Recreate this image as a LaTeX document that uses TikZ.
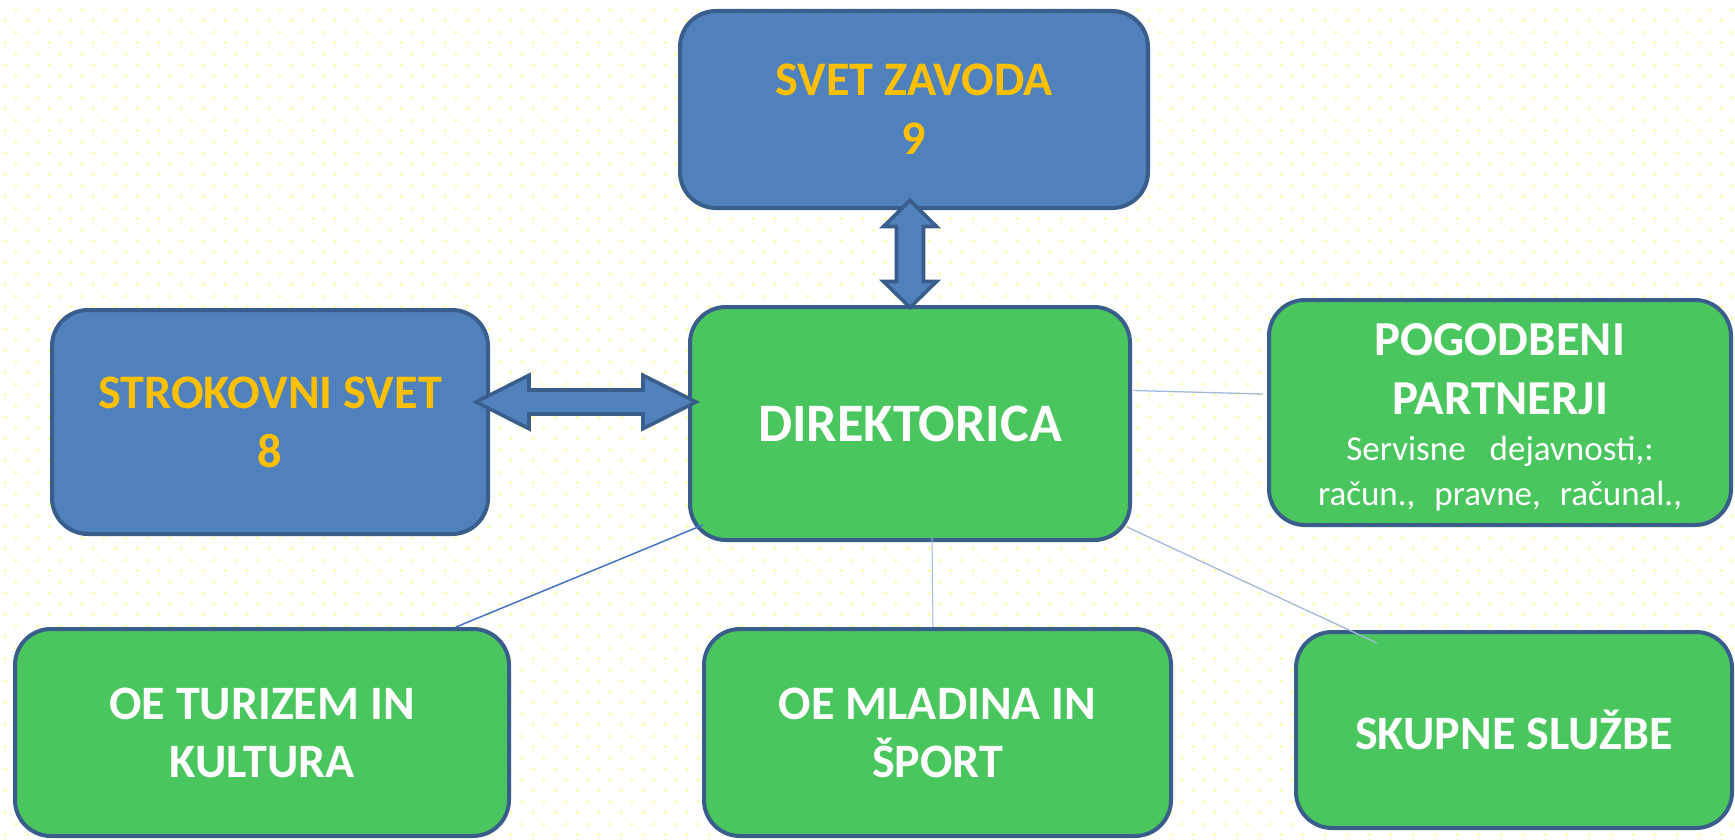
\documentclass[tikz,border=0pt]{standalone}
\usepackage{fontspec}
\setmainfont{Carlito}
\usetikzlibrary{patterns,calc}
\definecolor{boxblue}{RGB}{79,129,189}
\definecolor{edgeblue}{RGB}{58,94,140}
\definecolor{boxgreen}{RGB}{74,198,94}
\definecolor{txtgold}{RGB}{255,192,0}
\definecolor{dotyellow}{RGB}{255,255,150}
\definecolor{linkblue}{RGB}{68,114,196}
\definecolor{linkpale}{RGB}{163,185,220}
\pgfdeclarepatternformonly{ydots}{\pgfqpoint{0pt}{0pt}}{\pgfqpoint{10.75pt}{10.75pt}}{\pgfqpoint{10.75pt}{10.75pt}}{%
  \pgfpathcircle{\pgfqpoint{2.7pt}{2.7pt}}{0.8pt}%
  \pgfpathcircle{\pgfqpoint{8.075pt}{8.075pt}}{0.8pt}%
  \pgfusepath{fill}%
}
\tikzset{
  orgbox/.style={rounded corners=18pt, draw=edgeblue, line width=2pt, align=center, inner sep=0pt},
  bluebox/.style={orgbox, fill=boxblue, text=txtgold, font=\fontsize{24.1}{29.5}\selectfont\bfseries},
  greenbox/.style={orgbox, fill=boxgreen, text=white, font=\fontsize{24}{29}\selectfont\bfseries},
  blockarrow/.style={fill=boxblue, draw=edgeblue, line width=1.8pt, line join=miter},
  darklink/.style={draw=linkblue, line width=0.75pt},
  palelink/.style={draw=linkpale, line width=0.65pt}
}
\begin{document}
\begin{tikzpicture}[x=0.5pt, y=-0.5pt]
\useasboundingbox (0,0) rectangle (1735,840);
\fill[white] (0,0) rectangle (1735,840);
\fill[pattern=ydots, pattern color=dotyellow] (0,0) rectangle (1735,840);

\node[bluebox, minimum width=234pt, minimum height=98.5pt] (zavod) at (914,109.5) {SVET ZAVODA\\9};
\node[greenbox, font=\fontsize{27.1}{33}\selectfont\bfseries, minimum width=220pt, minimum height=116.5pt] (dir) at (910,423.5) {DIREKTORICA};
\node[bluebox, minimum width=218pt, minimum height=112pt] (strok) at (270,422) {STROKOVNI SVET\\8};
\node[greenbox, font=\fontsize{24.4}{29.5}\selectfont\bfseries, minimum width=231pt, minimum height=112.5pt] (part) at (1500,412.5)
  {\rule{0pt}{21pt}POGODBENI\\PARTNERJI\\[-6.5pt]{\fontsize{17.5}{29.5}\selectfont\mdseries Servisne\hspace{12pt}dejavnosti,:}\\[-7pt]{\fontsize{17.5}{29.5}\selectfont\mdseries račun.,\hspace{9.5pt}pravne,\hspace{9.5pt}računal.,}};
\node[greenbox, minimum width=247pt, minimum height=103.5pt] (tur) at (262,732.5) {OE TURIZEM IN\\KULTURA};
\node[greenbox, minimum width=233.5pt, minimum height=103.5pt] (mlad) at (937.5,732.5) {OE MLADINA IN\\ŠPORT};
\node[greenbox, minimum width=218pt, minimum height=98pt] (skup) at (1514,730) {SKUPNE SLUŽBE};

% thin connectors
\draw[darklink] ([shift={(15,-17)}]dir.south west) -- ([shift={(194,0)}]tur.north);
\draw[palelink, line width=0.5pt] ([shift={(22,-5)}]dir.south) -- ([shift={(-4.5,0)}]mlad.north);
\draw[palelink] ([shift={(1,-33)}]dir.east) -- ([shift={(-4,-18.5)}]part.west);
\draw[palelink] ([shift={(-5,-15)}]dir.south east) -- ([shift={(83,13)}]skup.north west);

% block double arrows
\draw[blockarrow] (910,200.5) -- (936.5,226.5) -- (923.5,226.5) -- (923.5,281.5) -- (936.5,281.5) -- (910,307.5)
  -- (883.5,281.5) -- (896.5,281.5) -- (896.5,226.5) -- (883.5,226.5) -- cycle;
\draw[blockarrow] (476,402) -- (529,375.3) -- (529,390) -- (643,390) -- (643,375.3) -- (696,402)
  -- (643,428.7) -- (643,414) -- (529,414) -- (529,428.7) -- cycle;
\end{tikzpicture}
\end{document}
